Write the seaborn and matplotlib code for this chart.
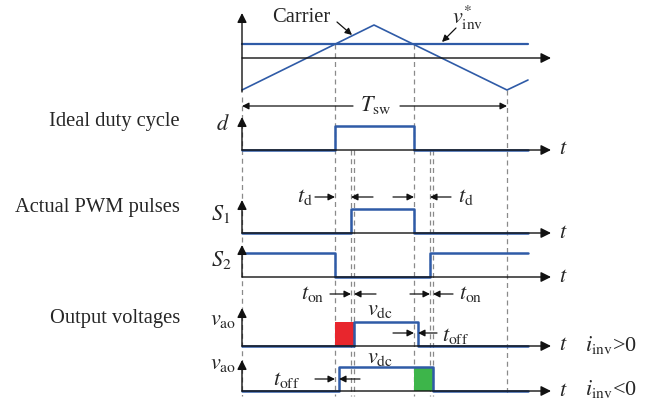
import numpy as np
import pandas as pd
import seaborn as sns
import matplotlib.pyplot as plt

# switching instants, measured along the time axis from the vertical axes
t_rise = 93      # carrier crosses v_inv* going up
t_fall = 172     # carrier crosses v_inv* going down
t_sw = 265       # one switching period
t_stop = 286     # where the traces stop
t_dead = 16      # dead time t_d
t_on = 3         # turn-on delay
t_off = 4        # turn-off delay

# carrier and reference
carrier_t = [0, 132, 265, 286]
carrier_v = [-32, 33, -32, -22]
v_ref = 14

# rows of the diagram: name -> baseline (px from the top)
rows = {'carrier': 58, 'd': 150, 'S1': 233, 'S2': 277, 'vpos': 346, 'vneg': 391}
pulse_h = 24
x0 = 242          # where the vertical axes sit
t_axis_end = 309  # arrow tip of the time axes

blue = '#2f5ba7'
sns.set_theme(style="white")
plt.rcParams['font.family'] = ['Liberation Serif', 'DejaVu Serif']
plt.rcParams['mathtext.fontset'] = 'stix'

fig = plt.figure(figsize=(6.6, 4.05), dpi=100)
ax = fig.add_axes([0, 0, 1, 1])
ax.set_xlim(0, 660)
ax.set_ylim(405, 0)
ax.axis('off')


def steps(edges, start_high, base):
    # build a square wave from a list of switching instants
    xs, ys = [0], []
    level = start_high
    ys.append(base - pulse_h * level)
    for e in edges:
        xs += [e, e]
        ys += [base - pulse_h * level, base - pulse_h * (1 - level)]
        level = 1 - level
    xs.append(t_stop)
    ys.append(base - pulse_h * level)
    return pd.DataFrame({'t': np.array(xs) + x0, 'y': ys})


def trace(df, lw=1.8, color=blue):
    sns.lineplot(data=df, x='t', y='y', sort=False, estimator=None,
                 color=color, lw=lw, ax=ax, legend=False)


def arrow(x1, y1, x2, y2, scale=10, lw=0.9):
    ax.annotate('', xy=(x2, y2), xytext=(x1, y1),
                arrowprops=dict(arrowstyle='-|>', color='#111111', lw=lw,
                                mutation_scale=scale, shrinkA=0, shrinkB=0))


# dashed guide lines
bottom = 396
guides = [(0, 97), (t_rise, 44), (t_fall, 44), (t_sw, 90),
          (t_rise + t_dead, 150), (t_rise + t_dead + t_on, 150),
          (t_fall + t_dead, 150), (t_fall + t_dead + t_on, 150)]
for t, top in guides:
    ax.plot([x0 + t, x0 + t], [top, bottom], ls=(0, (4, 3)), color='#8a8a8a', lw=0.9, zorder=1)

# axes of each row
ax_tops = {'carrier': 13, 'd': 117, 'S1': 200, 'S2': 245, 'vpos': 308, 'vneg': 360}
for name, base in rows.items():
    arrow(x0, base, x0 + t_axis_end, base, scale=15, lw=1.0)
    bot = 92 if name == 'carrier' else base
    arrow(x0, bot, x0, ax_tops[name], scale=14, lw=1.0)
    if name != 'carrier':
        ax.text(x0 + t_axis_end + 8, base, '$t$', fontsize=16, ha='left', va='center')

# carrier and reference
car = pd.DataFrame({'t': np.array(carrier_t) + x0, 'y': rows['carrier'] - np.array(carrier_v)})
trace(car, lw=1.2)
ref = pd.DataFrame({'t': [x0, x0 + t_stop], 'y': [rows['carrier'] - v_ref] * 2})
trace(ref, lw=1.6)

# square waves
trace(steps([t_rise, t_fall], 0, rows['d']))
trace(steps([t_rise + t_dead, t_fall], 0, rows['S1']))
trace(steps([t_rise, t_fall + t_dead], 1, rows['S2']))

# output voltages with the error areas
red_x = [x0 + t_rise, x0 + t_rise + t_dead + t_on]
ax.fill_between(red_x, rows['vpos'] - pulse_h, rows['vpos'], color='#e8262d', lw=0, zorder=2)
green_x = [x0 + t_fall, x0 + t_fall + t_dead + t_on]
ax.fill_between(green_x, rows['vneg'] - pulse_h, rows['vneg'], color='#3db54a', lw=0, zorder=2)
trace(steps([t_rise + t_dead + t_on, t_fall + t_off], 0, rows['vpos']))
trace(steps([t_rise + t_off, t_fall + t_dead + t_on], 0, rows['vneg']))

# left hand labels
fs = 14.8
ms = 16
ax.text(180, 126, 'Ideal duty cycle', fontsize=fs, ha='right', va='baseline')
ax.text(180, 212, 'Actual PWM pulses', fontsize=fs, ha='right', va='baseline')
ax.text(180, 323, 'Output voltages', fontsize=fs, ha='right', va='baseline')
ax.text(223, 125, '$d$', fontsize=ms, ha='center', va='center')
ax.text(221, 214, '$S_1$', fontsize=ms, ha='center', va='center')
ax.text(221, 260, '$S_2$', fontsize=ms, ha='center', va='center')
ax.text(223, 320, r'$v_{\mathrm{ao}}$', fontsize=ms, ha='center', va='center')
ax.text(223, 365, r'$v_{\mathrm{ao}}$', fontsize=ms, ha='center', va='center')

# carrier annotations
ax.text(301, 18, 'Carrier', fontsize=fs, ha='center', va='center')
arrow(337, 22, 352, 35)
ax.text(468, 18, r'$v^{*}_{\mathrm{inv}}$', fontsize=ms, ha='center', va='center')
arrow(456, 28, 442, 42)

# switching period
ax.text(376, 105, r'$T_{\mathrm{sw}}$', fontsize=ms, ha='center', va='center')
arrow(353, 106, x0, 106)
arrow(400, 106, x0 + t_sw, 106)

# dead time
y = 197
ax.text(305, y, r'$t_{\mathrm{d}}$', fontsize=ms, ha='center', va='center')
arrow(315, y, x0 + t_rise, y)
arrow(373, y, x0 + t_rise + t_dead, y)
arrow(393, y, x0 + t_fall, y)
arrow(451, y, x0 + t_fall + t_dead, y)
ax.text(466, y, r'$t_{\mathrm{d}}$', fontsize=ms, ha='center', va='center')

# turn-on delay
y = 294
ax.text(313, y, r'$t_{\mathrm{on}}$', fontsize=ms, ha='center', va='center')
arrow(330, y, x0 + t_rise + t_dead, y)
arrow(376, y, x0 + t_rise + t_dead + t_on, y)
arrow(410, y, x0 + t_fall + t_dead, y)
arrow(453, y, x0 + t_fall + t_dead + t_on, y)
ax.text(471, y, r'$t_{\mathrm{on}}$', fontsize=ms, ha='center', va='center')

# dc voltage and turn-off delay
ax.text(380, 311, r'$v_{\mathrm{dc}}$', fontsize=ms, ha='center', va='center')
ax.text(380, 358, r'$v_{\mathrm{dc}}$', fontsize=ms, ha='center', va='center')
y = 333
arrow(393, y, x0 + t_fall, y)
arrow(437, y, x0 + t_fall + t_off, y)
ax.text(456, 336, r'$t_{\mathrm{off}}$', fontsize=ms, ha='center', va='center')
y = 379
ax.text(287, 380, r'$t_{\mathrm{off}}$', fontsize=ms, ha='center', va='center')
arrow(315, y, x0 + t_rise, y)
arrow(360, y, x0 + t_rise + t_off, y)

# current sign labels
ax.text(611, 351, r'$i_{\mathrm{inv}}$>0', fontsize=ms, ha='center', va='baseline')
ax.text(611, 395, r'$i_{\mathrm{inv}}$<0', fontsize=ms, ha='center', va='baseline')

fig.savefig('out.png', dpi=100)
